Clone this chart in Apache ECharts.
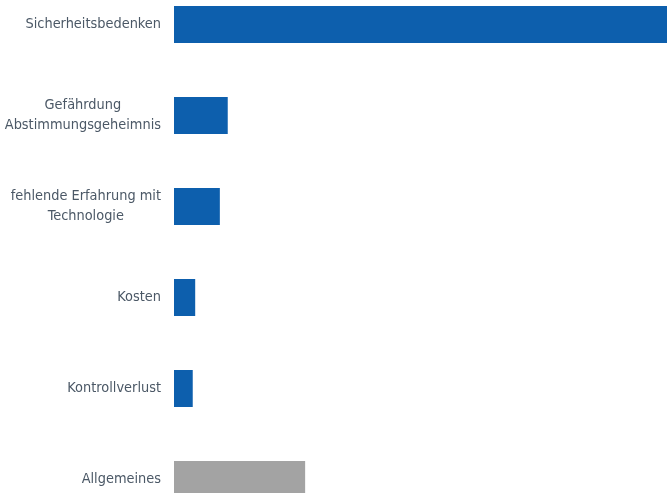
<!DOCTYPE html>
<html>
<head>
<meta charset="utf-8">
<script src="https://cdn.jsdelivr.net/npm/echarts@6/dist/echarts.min.js"></script>
<style>
html,body{margin:0;padding:0;background:#fff;}
#chart{width:667px;height:493px;}
</style>
</head>
<body>
<div id="chart"></div>
<script>
var categories = ['Sicherheitsbedenken', 'Gefährdung\nAbstimmungsgeheimnis', 'fehlende Erfahrung mit\nTechnologie', 'Kosten', 'Kontrollverlust', 'Allgemeines'];
var values = [100, 10.9, 9.3, 4.3, 3.8, 26.6];
var barColors = ['#0d5fad', '#0d5fad', '#0d5fad', '#0d5fad', '#0d5fad', '#a3a3a3'];

var chart = echarts.init(document.getElementById('chart'), null, {renderer: 'canvas'});
chart.setOption({
  animation: false,
  grid: {left: 174, right: 0, top: -21, height: 546, containLabel: false, outerBoundsMode: 'none'},
  xAxis: {type: 'value', min: 0, max: 100, show: false},
  yAxis: {
    type: 'category',
    inverse: true,
    data: categories,
    axisLine: {show: false},
    axisTick: {show: false},
    axisLabel: {
      margin: 13,
      align: 'right',
      formatter: function (v) {
        return v.split('\n').map(function (l) { return '{c|' + l + '}'; }).join('\n');
      },
      rich: {
        c: {align: 'center', fontFamily: "'Liberation Sans Narrow', 'DejaVu Sans Condensed', sans-serif", fontSize: 14.4, color: '#4b5866', lineHeight: 20}
      }
    }
  },
  series: [{
    type: 'bar',
    barWidth: 37,
    data: values.map(function (v, i) { return {value: v, itemStyle: {color: barColors[i]}}; })
  }]
});
</script>
</body>
</html>
